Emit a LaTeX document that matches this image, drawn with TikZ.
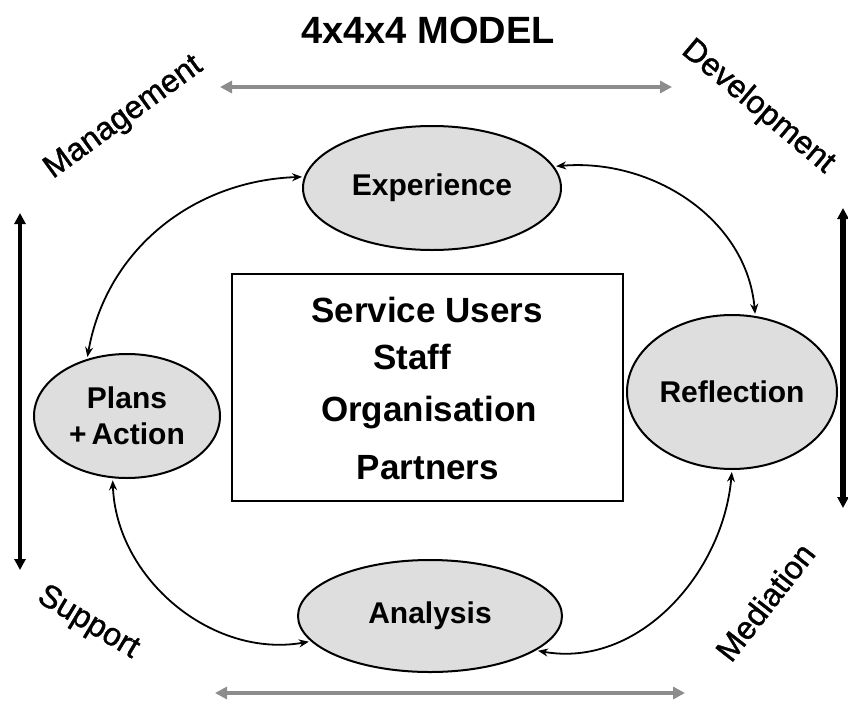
\documentclass[tikz,border=0pt]{standalone}
\usepackage{fontspec}
\setmainfont{Liberation Sans}
\newfontfamily\axisfont[FakeBold=1.2]{Liberation Sans}
\usepackage{tikz}
\usetikzlibrary{arrows.meta,positioning,shapes.geometric}
\definecolor{BlobGray}{RGB}{222,222,222}
\definecolor{BarGray}{RGB}{140,140,140}

\begin{document}
\begin{tikzpicture}[x=1pt,y=-1pt,>=Stealth,every node/.style={font=\bfseries\fontsize{30}{34}\selectfont}]
\tikzset{stage/.style={ellipse,draw,line width=2pt,fill=BlobGray,inner sep=0pt,align=center},
  who/.style={font=\bfseries\fontsize{35}{38}\selectfont},
  axis/.style={font=\axisfont\fontsize{32}{36}\selectfont},
  loop/.style={<->,line width=1.8pt,shorten <=2pt,shorten >=2pt,>={Stealth[length=10pt,width=8pt]}},
  bar/.style={{Triangle[length=12pt,width=12pt]}-{Triangle[length=12pt,width=12pt]},line width=3.5pt,draw=BarGray,fill=BarGray},
  post/.style={{Triangle[length=11pt,width=11pt]}-{Triangle[length=11pt,width=11pt]},line width=4.5pt}}
\useasboundingbox (0,0) rectangle (848,704);
\node (title) at (428,30) {\fontsize{38}{42}\selectfont 4x4x4 MODEL};
% four stages round the middle
\node[stage,minimum width=258pt,minimum height=124pt] (exp) at (432,188) {Experience};
\node[stage,minimum width=210pt,minimum height=154pt] (refl) at (732,392) {Reflection};
\node[stage,minimum width=264pt,minimum height=112pt] (ana) at (430,616) {Analysis};
\node[stage,minimum width=186pt,minimum height=124pt] (plans) at (127,416) {Plans\\[2pt]+\,Action};
% centre box
\node[draw,line width=2pt,minimum width=391pt,minimum height=227pt] (box) at (427,387) {};
\node[who] (su) at (427,310) {Service Users};
\node[who] (staff) at (412,357) {Staff};
\node[who] (org) at (429,413) {Organisation};
\node[who] (part) at (428,468) {Partners};
% cycle
\draw[loop] (plans.125) to[out=80,in=182] (exp.175);
\draw[loop] (exp.10) to[out=5,in=95] (refl.73);
\draw[loop] (refl.south) to[out=-95,in=-10] (ana.-18);
\draw[loop] (ana.192) to[out=190,in=-88] (plans.-103);
% axes
\node[axis,rotate=36] (mgmt) at (124,118) {Management};
\node[axis,rotate=-40] (dev) at (758,107) {Development};
\node[axis,rotate=-31] (sup) at (88,623) {Support};
\node[axis,rotate=52] (med) at (765,602) {Mediation};
\coordinate (tl) at (220,87);
\coordinate (tr) at (672,87);
\coordinate (bl) at (215,693);
\coordinate (br) at (685,693);
\coordinate (lt) at (20,213);
\coordinate (lb) at (20,570);
\coordinate (rt) at (843,208);
\coordinate (rb) at (843,508);
\draw[bar] (tl) -- (tr);
\draw[bar] (bl) -- (br);
\draw[post] (lt) -- (lb);
\draw[post,line width=5.5pt] (rt) -- (rb);
\end{tikzpicture}
\end{document}
